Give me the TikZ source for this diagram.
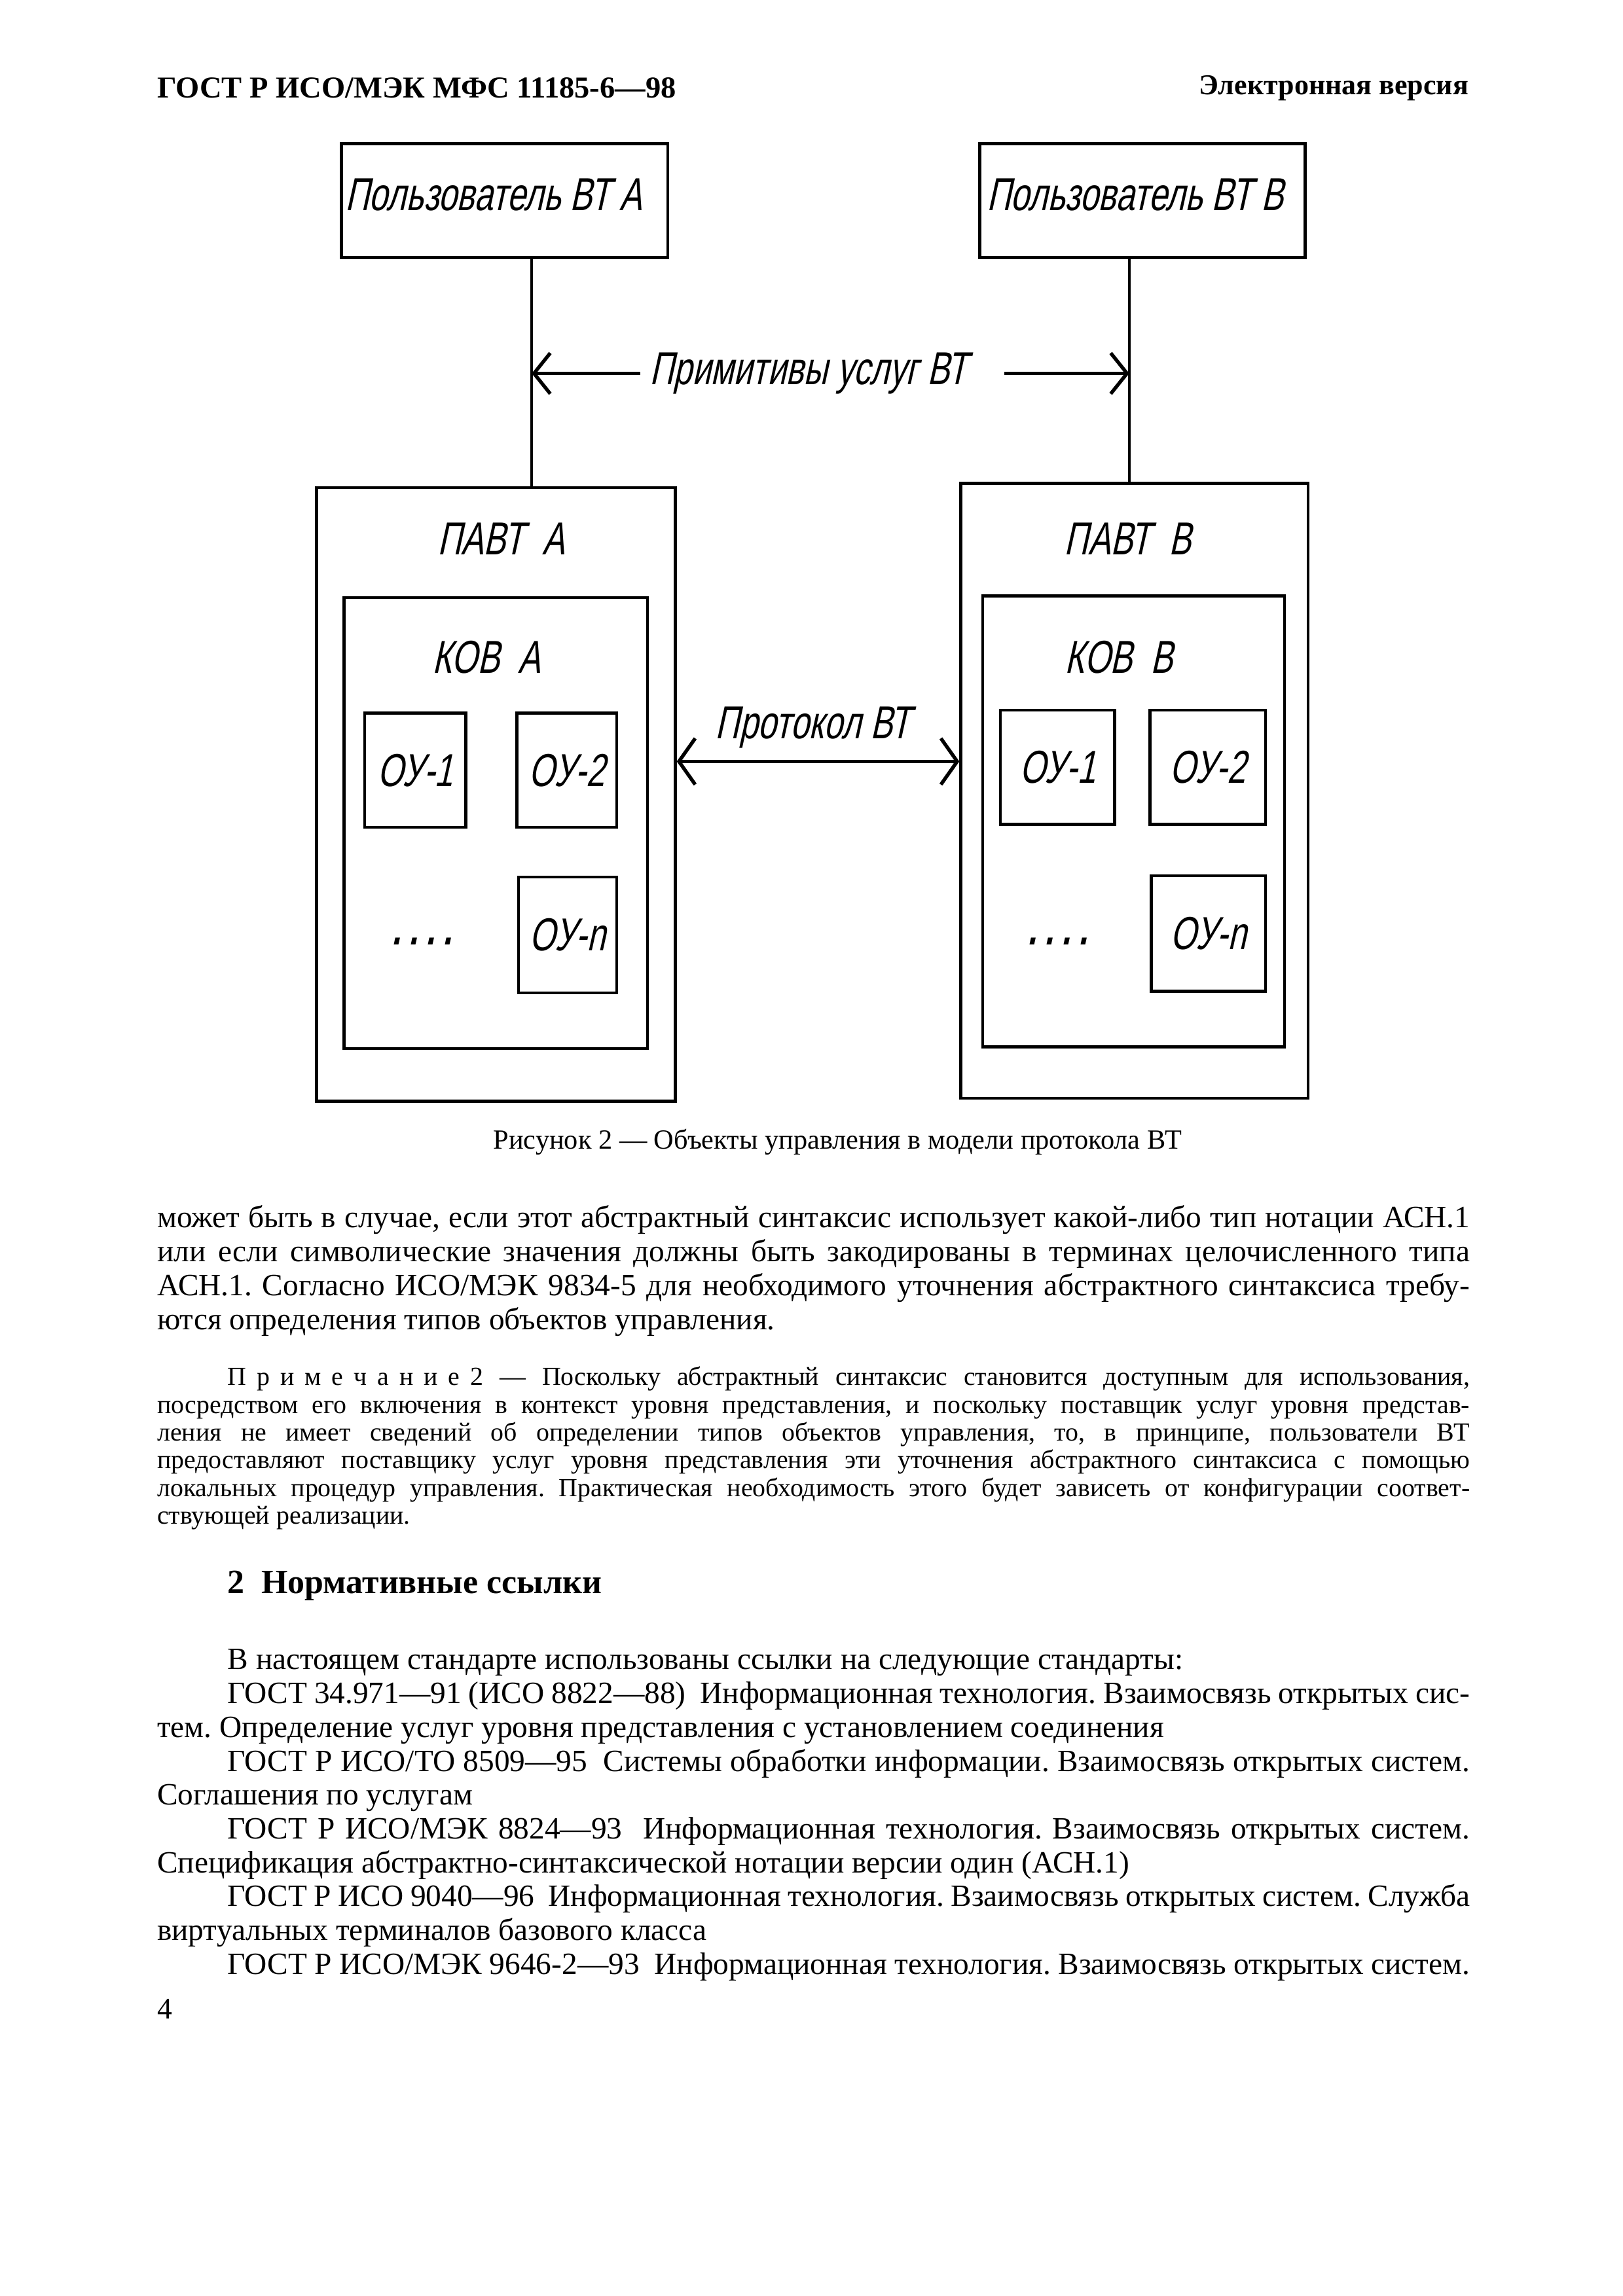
\documentclass[tikz,border=0pt]{standalone}
\usepackage{fontspec}
\setmainfont{Liberation Serif}
\newfontfamily\gostfont[FakeStretch=0.72,FakeSlant=0.22]{Liberation Sans}
\usetikzlibrary{arrows.meta,positioning}
\newcommand\pxu{0.018941cm}
\frenchspacing

\begin{document}
\begin{tikzpicture}[x=\pxu,y=-\pxu,
    box/.style={draw, line width=1.1pt, inner sep=0pt, font=\gostfont\fontsize{17}{20}\selectfont},
    lbl/.style={font=\gostfont\fontsize{17}{20}\selectfont},
    link/.style={line width=0.9pt},
    pil/.style={line width=1.3pt, -{Straight Barb[length=6pt,width=15pt]}},
    txt/.style={anchor=north west, inner sep=0pt, text width=16.97cm, align=justify, font=\fontsize{11.4}{12.45}\selectfont}]
  \useasboundingbox (0,0) rectangle (1108,1568);

  % header
  \node[anchor=west, inner sep=0pt, font=\bfseries\fontsize{11.2}{14}\selectfont] (hdl) at (107,60) {ГОСТ Р ИСО/МЭК МФС 11185-6—98};
  \node[anchor=east, inner sep=0pt, font=\bfseries\fontsize{10.6}{14}\selectfont] (hdr) at (1003,60) {Электронная версия};

  % users
  \node[box, minimum width=223*\pxu, minimum height=78*\pxu] (usrA) at (344.5,137) {};
  \node[box, minimum width=222*\pxu, minimum height=78*\pxu] (usrB) at (780,137) {};
  \node[lbl] (usrAl) at (337,133) {Пользователь ВТ А};
  \node[lbl] (usrBl) at (775,133) {Пользователь ВТ В};

  % PAVT and KOV
  \node[box, minimum width=245*\pxu, minimum height=419*\pxu] (pavtA) at (338.5,542.5) {};
  \node[box, minimum width=237*\pxu, minimum height=420*\pxu] (pavtB) at (774.5,540) {};
  \node[box, minimum width=207*\pxu, minimum height=308*\pxu] (kovA) at (338.5,562) {};
  \node[box, minimum width=206*\pxu, minimum height=308*\pxu] (kovB) at (774,561) {};
  \node[lbl] (pavtAl) at (342,368) {ПАВТ\ \ А};
  \node[lbl] (pavtBl) at (770,368) {ПАВТ\ \ В};
  \node[lbl] (kovAl) at (332,449) {КОВ\ \ А};
  \node[lbl] (kovBl) at (764,449) {КОВ\ \ В};

  % OU
  \node[box, minimum width=69*\pxu, minimum height=78*\pxu] (ouA1) at (283.5,526) {ОУ-1};
  \node[box, minimum width=68*\pxu, minimum height=78*\pxu] (ouA2) at (387,526) {ОУ-2};
  \node[box, minimum width=67*\pxu, minimum height=79*\pxu] (ouAn) at (387.5,638.5) {ОУ-n};
  \node[box, minimum width=78*\pxu, minimum height=78*\pxu] (ouB1) at (722,524) {ОУ-1};
  \node[box, minimum width=79*\pxu, minimum height=78*\pxu] (ouB2) at (824.5,524) {ОУ-2};
  \node[box, minimum width=78*\pxu, minimum height=79*\pxu] (ouBn) at (825,637.5) {ОУ-n};
  \node[lbl, anchor=base] (dotsA) at (288,645) {\textbf{.\,.\,.\,.}};
  \node[lbl, anchor=base] (dotsB) at (722,645) {\textbf{.\,.\,.\,.}};

  % links
  \coordinate (la) at (363,0);
  \coordinate (lb) at (771,0);
  \coordinate (pr) at (0,520);
  \draw[link] (usrA.south -| la) -- (pavtA.north -| la);
  \draw[link] (usrB.south -| lb) -- (pavtB.north -| lb);
  \node[lbl] (prim) at (552,255) {Примитивы услуг ВТ};
  \draw[pil] (prim.west) -- (prim.west -| la);
  \draw[pil] ([xshift=10pt]prim.east) -- (prim.east -| lb);
  \node[lbl] (prot) at (555,497) {Протокол ВТ};
  \draw[pil, {Straight Barb[length=6pt,width=17pt]}-{Straight Barb[length=6pt,width=17pt]}] (pavtA.east |- pr) -- (pavtB.west |- pr);

  % caption
  \node[inner sep=0pt, font=\fontsize{10.2}{12}\selectfont] (capt) at (572,780) {Рисунок 2 — Объекты управления в модели протокола ВТ};

  % text
  \node[txt] (par1) at (107,823) {может быть в случае, если этот абстрактный синтаксис использует какой-либо тип нотации АСН.1\linebreak
    или если символические значения должны быть закодированы в терминах целочисленного типа\linebreak
    АСН.1. Согласно ИСО/МЭК 9834-5 для необходимого уточнения абстрактного синтаксиса требу-\linebreak
    ются определения типов объектов управления.};
  \node[txt, font=\fontsize{9.6}{10.2}\selectfont] (note) at (107,933) {\hspace*{0.91cm}П\hspace{0.4em}р\hspace{0.4em}и\hspace{0.4em}м\hspace{0.4em}е\hspace{0.4em}ч\hspace{0.4em}а\hspace{0.4em}н\hspace{0.4em}и\hspace{0.4em}е\hspace{0.4em}2 — Поскольку абстрактный синтаксис становится доступным для использования,\linebreak
    посредством его включения в контекст уровня представления, и поскольку поставщик услуг уровня представ-\linebreak
    ления не имеет сведений об определении типов объектов управления, то, в принципе, пользователи ВТ\linebreak
    предоставляют поставщику услуг уровня представления эти уточнения абстрактного синтаксиса с помощью\linebreak
    локальных процедур управления. Практическая необходимость этого будет зависеть от конфигурации соответ-\linebreak
    ствующей реализации.};
  \node[anchor=west, inner sep=0pt, font=\bfseries\fontsize{12.5}{16}\selectfont] (sect) at (155,1083) {2\ \ Нормативные ссылки};
  \node[txt] (refs) at (107,1126) {\hspace*{0.91cm}В настоящем стандарте использованы ссылки на следующие стандарты:\par
    \hspace*{0.91cm}ГОСТ 34.971—91 (ИСО 8822—88)\ \ Информационная технология. Взаимосвязь открытых сис-\linebreak
    тем. Определение услуг уровня представления с установлением соединения\par
    \hspace*{0.91cm}ГОСТ Р ИСО/ТО 8509—95\ \ Системы обработки информации. Взаимосвязь открытых систем.\linebreak
    Соглашения по услугам\par
    \hspace*{0.91cm}ГОСТ Р ИСО/МЭК 8824—93\ \ Информационная технология. Взаимосвязь открытых систем.\linebreak
    Спецификация абстрактно-синтаксической нотации версии один (АСН.1)\par
    \hspace*{0.91cm}ГОСТ Р ИСО 9040—96\ \ Информационная технология. Взаимосвязь открытых систем. Служба\linebreak
    виртуальных терминалов базового класса\par
    \hspace*{0.91cm}ГОСТ Р ИСО/МЭК 9646-2—93\ \ Информационная технология. Взаимосвязь открытых систем.};
  \node[anchor=west, inner sep=0pt, font=\fontsize{11}{12}\selectfont] (pgno) at (107,1372) {4};
\end{tikzpicture}
\end{document}
